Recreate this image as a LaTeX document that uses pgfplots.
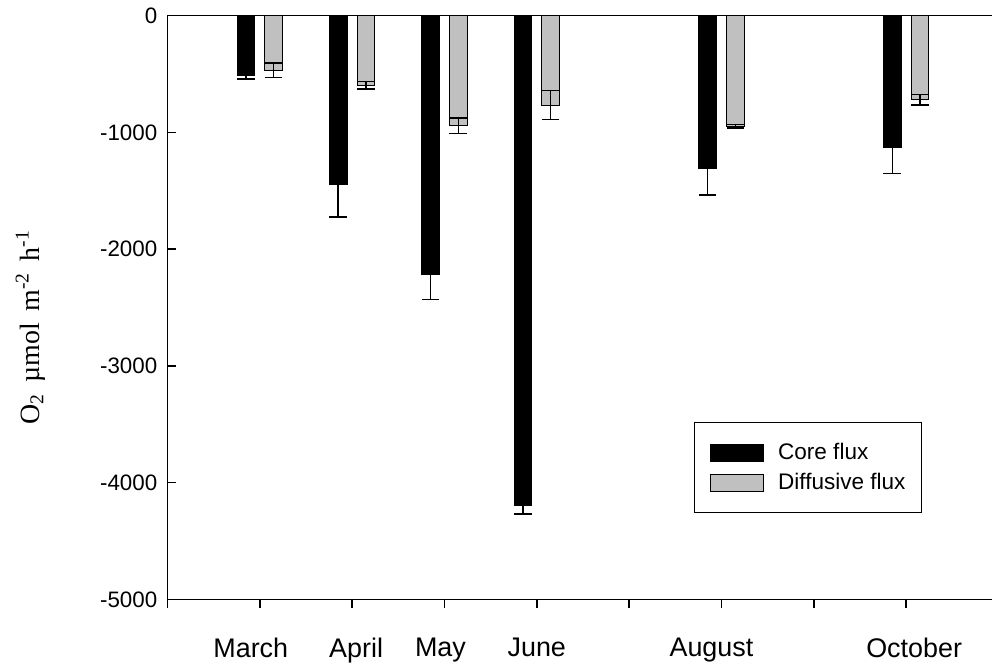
\documentclass[border=0pt]{standalone}
\usepackage{fontspec}
\setmainfont{Liberation Sans}
\newfontfamily\serifont{Liberation Serif}
\usepackage{pgfplots}
\usepackage{pgfplotstable}
\pgfplotsset{compat=1.18}
\usetikzlibrary{calc}
\definecolor{barsilver}{RGB}{192,192,192}

\pgfplotstableread{
x core coreerr diff differr
1 -510 33 -467 61
2 -1445 280 -596 33
3 -2215 217 -943 68
4 -4197 72 -765 125
6 -1307 230 -948 15
8 -1133 219 -718 45
}\fluxdata

\begin{document}
\begin{tikzpicture}
\begin{axis}[
  name=ax,
  width=412bp, height=291.65bp, scale only axis,
  xmin=0, xmax=8.93, ymin=-5000, ymax=0,
  axis x line*=bottom, axis y line*=left,
  axis line style={line width=0.75bp, black},
  xtick={0,...,8},
  xticklabels={,\kern-9bp March,\kern4bp April,\kern-4bp May,June,,\kern-10bp August,,\kern8bp October},
  ytick={-5000,-4000,...,0},
  tick align=outside,
  major tick length=4.3bp,
  every tick/.style={line width=0.75bp, black},
  every y tick/.append style={xshift=4.3bp},
  /pgf/number format/assume math mode=true,
  /pgf/number format/1000 sep={},
  yticklabel style={font=\fontsize{11.2}{13}\selectfont, inner xsep=0.6bp},
  xticklabel style={font=\fontsize{13.5}{16}\selectfont, yshift=-11.2bp},
  legend style={at={(rel axis cs:0.638,0.304)}, anchor=north west,
    draw=black, line width=0.5bp, font=\fontsize{11.3}{13.5}\selectfont,
    inner xsep=8.2bp, inner ysep=10.3bp, row sep=5.3bp, column sep=7bp,
    nodes={inner sep=0pt, anchor=west, font=\fontsize{11.3}{13.5}\selectfont}},
  legend cell align=left,
]
\addplot[ybar, bar width=0.19, bar shift=0pt, fill=black, draw=black, line width=0.5bp,
  legend image code/.code={\draw[fill=black, draw=black, line width=0.5bp] (0bp,-4.25bp) rectangle (26.35bp,4.25bp);},
  error bars/.cd, y dir=both, y explicit,
  error bar style={line width=0.75bp, black},
  error mark options={black, line width=0.75bp, mark size=4.4bp, rotate=90}]
  table[x expr=\thisrow{x}-0.15, y=core, y error=coreerr] {\fluxdata};
\addlegendentry{Core flux}
\addplot[ybar, bar width=0.19, bar shift=0pt, fill=barsilver, draw=black, line width=0.5bp,
  legend image code/.code={\draw[fill=barsilver, draw=black, line width=0.5bp] (0bp,-4.25bp) rectangle (26.35bp,4.25bp);},
  error bars/.cd, y dir=both, y explicit,
  error bar style={line width=0.75bp, black},
  error mark options={black, line width=0.75bp, mark size=4.4bp, rotate=90}]
  table[x expr=\thisrow{x}+0.15, y=diff, y error=differr] {\fluxdata};
\addlegendentry{Diffusive flux}
\end{axis}
\draw[line width=0.75bp, black] (ax.north west) -- (ax.north east);
\node[rotate=90, anchor=base, inner sep=0pt, font=\serifont\fontsize{14}{16}\selectfont]
  at ($(ax.south west)+(-64.15bp,136bp)$)
  {O\textsubscript{2}\hspace{0.4em}µmol\hspace{0.4em}m\textsuperscript{-2}\hspace{0.4em}h\textsuperscript{-1}};
\pgfresetboundingbox
\path[use as bounding box] ($(ax.south west)+(-83.65bp,-34.5bp)$) rectangle ($(ax.north east)+(0bp,7.85bp)$);
\end{tikzpicture}
\end{document}
